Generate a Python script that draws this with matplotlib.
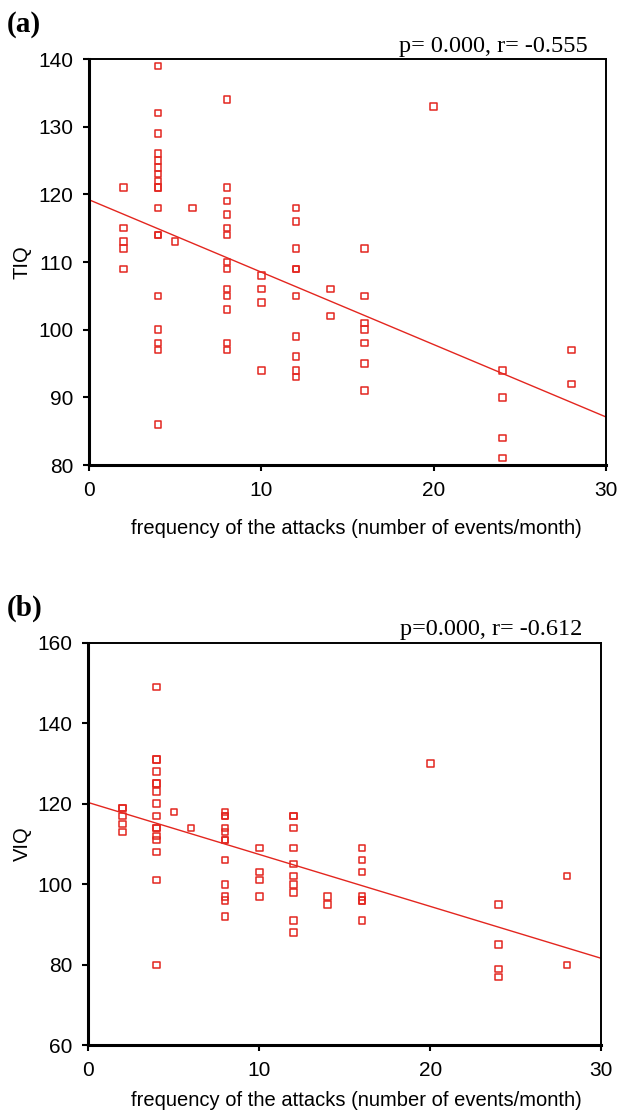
import numpy as np
import matplotlib
matplotlib.use("Agg")
import matplotlib.pyplot as plt

# Panel (a): TIQ vs frequency
freq_a = [2]*5 + [4]*18 + [5, 6] + [8]*13 + [10]*4 + [12]*10 + [14]*2 + [16]*7 + [20] + [24]*4 + [28]*2
tiq = ([121, 115, 113, 112, 109] +
       [139, 132, 129, 126, 125, 124, 123, 122, 121, 121, 118, 114, 114, 105, 100, 98, 97, 86] +
       [113, 118] +
       [134, 121, 119, 117, 115, 114, 110, 109, 106, 105, 103, 98, 97] +
       [108, 106, 104, 94] +
       [118, 116, 112, 109, 109, 105, 99, 96, 94, 93] +
       [106, 102] +
       [112, 105, 101, 100, 98, 95, 91] +
       [133] +
       [94, 90, 84, 81] +
       [97, 92])

# Panel (b): VIQ vs frequency
freq_b = [2]*5 + [4]*16 + [5, 6] + [8]*12 + [10]*4 + [12]*10 + [14]*2 + [16]*7 + [20] + [24]*4 + [28]*2
viq = ([119, 119, 117, 115, 113] +
       [149, 131, 131, 128, 125, 125, 123, 120, 117, 114, 114, 112, 111, 108, 101, 80] +
       [118, 114] +
       [118, 117, 117, 114, 113, 111, 111, 106, 100, 97, 96, 92] +
       [109, 103, 101, 97] +
       [117, 117, 114, 109, 105, 102, 100, 98, 91, 88] +
       [97, 95] +
       [109, 106, 103, 97, 96, 96, 91] +
       [130] +
       [95, 85, 79, 77] +
       [102, 80])

# Fitted lines: value at x=0 and x=30
line_a = [119.2, 87.1]
line_b = [120.3, 81.6]
line_x = [0, 30]

stats_a = "p= 0.000, r= -0.555"
stats_b = "p=0.000, r= -0.612"
xlabel = "frequency of the attacks (number of events/month)"

red = "#e3261f"
W, H = 619, 1119
fig = plt.figure(figsize=(W/100, H/100), dpi=100)

def make(ax, x, y, lx, ly, ylim, yticks, ylabel, stats, tag, tagy,
         ax_w, ax_h, ax_left, xlab_off, stats_right, stats_gap):
    ax.scatter(x, y, marker="s", s=22, facecolors="none", edgecolors=red, linewidths=1.1, zorder=3)
    ax.plot(lx, ly, color=red, lw=1.0, zorder=2)
    ax.set_xlim(0, 30)
    ax.set_ylim(*ylim)
    ax.set_xticks([0, 10, 20, 30])
    ax.set_yticks(yticks)
    for s in ["left", "bottom"]:
        ax.spines[s].set_linewidth(2.2)
    for s in ["top", "right"]:
        ax.spines[s].set_linewidth(1.4)
    ax.tick_params(direction="out", length=4.3, width=1.5, labelsize=15, pad=7)
    for lab in ax.get_xticklabels() + ax.get_yticklabels():
        lab.set_fontfamily("Liberation Sans")
    ax.set_xlabel(xlabel, fontsize=14.5, family="Liberation Sans")
    ax.xaxis.label.set_va("center")
    ax.xaxis.set_label_coords((356 - ax_left) / ax_w, -xlab_off / ax_h)
    ax.set_ylabel(ylabel, fontsize=14.5, family="Liberation Sans")
    ax.yaxis.label.set_va("center")
    ax.yaxis.set_label_coords((22 - ax_left) / ax_w, 0.5)
    ax.text(stats_right, 1 + stats_gap / ax_h, stats, transform=ax.transAxes,
            ha="right", va="baseline", fontsize=17.5, family="Liberation Serif")
    fig.text(7/W, tagy, tag, ha="left", va="center", fontsize=21, fontweight="bold",
             family="Liberation Serif")

w1, h1 = 606 - 89, 465 - 59
ax1 = fig.add_axes([89/W, 1-465/H, w1/W, h1/H])
make(ax1, freq_a, tiq, line_x, line_a, (80, 140), [80, 90, 100, 110, 120, 130, 140],
     "TIQ", stats_a, "(a)", 1-24/H, w1, h1, 89, 63, (588-89)/517, 7)

w2, h2 = 601.3 - 88.3, 1045.3 - 642.7
ax2 = fig.add_axes([88.3/W, 1-1045.3/H, w2/W, h2/H])
make(ax2, freq_b, viq, line_x, line_b, (60, 160), [60, 80, 100, 120, 140, 160],
     "VIQ", stats_b, "(b)", 1-608/H, w2, h2, 88.3, 55, (582-88.3)/513, 8)

fig.savefig("out.png", dpi=100)
